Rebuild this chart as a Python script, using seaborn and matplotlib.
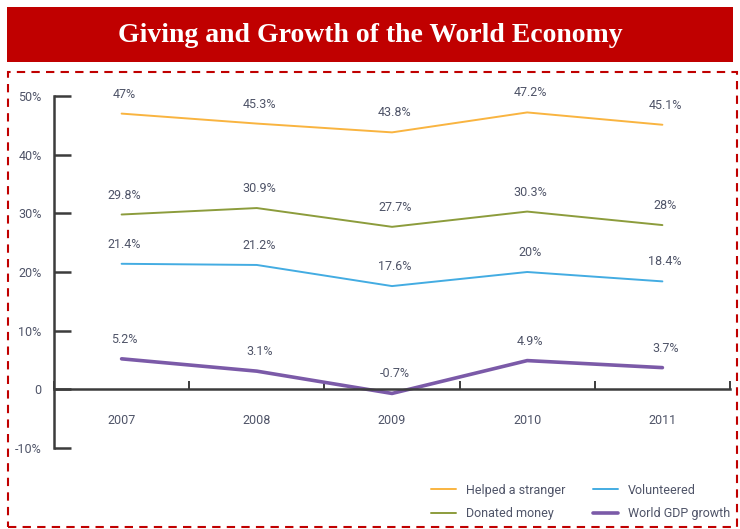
"""Giving and growth of the world economy: line chart recreation."""

import matplotlib.pyplot as plt
import matplotlib.ticker as mticker
import pandas as pd
import seaborn as sns
from matplotlib.patches import Rectangle

years = [2007, 2008, 2009, 2010, 2011]
helped_stranger = [47.0, 45.3, 43.8, 47.2, 45.1]
donated_money = [29.8, 30.9, 27.7, 30.3, 28.0]
volunteered = [21.4, 21.2, 17.6, 20.0, 18.4]
gdp_growth = [5.2, 3.1, -0.7, 4.9, 3.7]

series_names = ["Helped a stranger", "Donated money", "Volunteered", "World GDP growth"]
series_values = [helped_stranger, donated_money, volunteered, gdp_growth]
point_labels = [
    ["47%", "45.3%", "43.8%", "47.2%", "45.1%"],
    ["29.8%", "30.9%", "27.7%", "30.3%", "28%"],
    ["21.4%", "21.2%", "17.6%", "20%", "18.4%"],
    ["5.2%", "3.1%", "-0.7%", "4.9%", "3.7%"],
]
colors = {
    "Helped a stranger": "#f9b440",
    "Donated money": "#8c9c3c",
    "Volunteered": "#43ace2",
    "World GDP growth": "#7b5aa8",
}
widths = {"Helped a stranger": 1.4, "Donated money": 1.4, "Volunteered": 1.4, "World GDP growth": 2.6}

rows = []
for name, vals in zip(series_names, series_values):
    for yr, v in zip(years, vals):
        rows.append({"year": yr, "value": v, "series": name})
df = pd.DataFrame(rows)

sns.set_style("white")
plt.rcParams["font.family"] = ["Roboto", "DejaVu Sans"]
txt_color = "#4f5468"
axis_color = "#3c3c3c"

fig = plt.figure(figsize=(7.4, 5.29), dpi=100)
ax = fig.add_axes([54 / 740, (529 - 448) / 529, 676 / 740, 352 / 529])

for name in series_names:
    sns.lineplot(data=df[df["series"] == name], x="year", y="value", color=colors[name],
                 linewidth=widths[name], label=name, ax=ax, legend=False)

for name, labs in zip(series_names, point_labels):
    sub = df[df["series"] == name]
    for (_, r), lab in zip(sub.iterrows(), labs):
        ax.annotate(lab, (r["year"], r["value"]), xytext=(2, 14), textcoords="offset points",
                    ha="center", va="center", fontsize=9, color=txt_color)

ax.set_xlim(years[0] - 0.5, years[-1] + 0.5)
ax.set_ylim(-10, 50)
ax.set_xlabel("")
ax.set_ylabel("")

for s in ["top", "right"]:
    ax.spines[s].set_visible(False)
ax.spines["bottom"].set_position(("data", 0))
ax.spines["left"].set_bounds(-10, 50)
for s in ["bottom", "left"]:
    ax.spines[s].set_color(axis_color)
    ax.spines[s].set_linewidth(1.8)

ax.set_yticks([-10, 0, 10, 20, 30, 40, 50])
ax.yaxis.set_major_formatter(mticker.FuncFormatter(lambda v, p: "0" if v == 0 else f"{v:.0f}%"))
ax.tick_params(axis="y", left=True, direction="in", length=12, width=1.8, color=axis_color,
               pad=9, labelsize=9, labelcolor=txt_color)

ax.set_xticks([y - 0.5 for y in years] + [years[-1] + 0.5])
ax.set_xticklabels([])
ax.set_xticks(years, minor=True)
ax.set_xticklabels([str(y) for y in years], minor=True)
ax.tick_params(axis="x", which="major", bottom=True, direction="in", length=6, width=1.4,
               color=axis_color)
ax.tick_params(axis="x", which="minor", bottom=True, length=0, pad=18, labelsize=9,
               labelcolor=txt_color)

handles, labels = ax.get_legend_handles_labels()
fig.legend(handles, labels, ncol=2, frameon=False, loc="lower left",
           bbox_to_anchor=(420 / 740, -0.005), fontsize=9, handlelength=2.0,
           columnspacing=2.2, labelspacing=0.85, labelcolor=txt_color)

# title banner and dashed frame
fig.patches.append(Rectangle((7 / 740, (529 - 62) / 529), 726 / 740, 55 / 529,
                             transform=fig.transFigure, facecolor="#c00000", edgecolor="none"))
fig.text(0.5, (529 - 35) / 529, "Giving and Growth of the World Economy", ha="center", va="center",
         color="white", fontsize=20, fontweight="bold", family=["Liberation Serif", "DejaVu Serif"])
fig.patches.append(Rectangle((8 / 740, 2.5 / 529), 729 / 740, 455 / 529, transform=fig.transFigure,
                             facecolor="none", edgecolor="#c00000", linewidth=1.5,
                             linestyle=(0, (4, 3))))

fig.savefig("out.png", dpi=100)
